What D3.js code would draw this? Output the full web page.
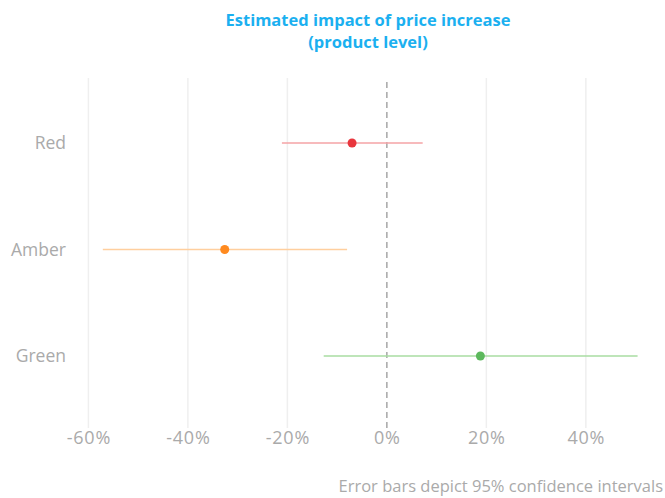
<!DOCTYPE html>
<html>
<head>
<meta charset="utf-8">
<script src="https://cdn.jsdelivr.net/npm/d3@7"></script>
<style>
  body { margin: 0; background: #fff; }
  text { font-family: "Open Sans", "Lato", sans-serif; }
</style>
</head>
<body>
<svg id="chart"></svg>
<script>
var categories = ["Red", "Amber", "Green"];
var estimates = [-7.0, -32.6, 18.8];
var lower = [-21.1, -57.1, -12.7];
var upper = [7.2, -8.0, 50.4];
var pointColors = ["#e8363d", "#ff8a1f", "#5cb85c"];
var barColors = ["#f5a3a6", "#ffcf9e", "#a8dca2"];
var xTicks = [-60, -40, -20, 0, 20, 40];

var width = 665;
var height = 498;
var plotTop = 78, plotBottom = 428;

var svg = d3.select("#chart")
    .attr("width", width)
    .attr("height", height);

var xScale = d3.scaleLinear()
    .domain([-63.7, 53.9])
    .range([70, 655]);
var yScale = d3.scalePoint()
    .domain(categories)
    .range([143, 356]);

// grid
svg.append("g")
    .selectAll("line")
    .data(xTicks.filter(function (d) { return d !== 0; }))
    .enter()
    .append("line")
    .attr("x1", function (d) { return xScale(d); })
    .attr("x2", function (d) { return xScale(d); })
    .attr("y1", plotTop)
    .attr("y2", plotBottom)
    .attr("stroke", "#efefef")
    .attr("stroke-width", 1.5);

// zero line
svg.append("line")
    .attr("x1", xScale(0))
    .attr("x2", xScale(0))
    .attr("y1", 82)
    .attr("y2", plotBottom)
    .attr("stroke", "#999")
    .attr("stroke-width", 1.3)
    .attr("stroke-dasharray", "6,4");

// x axis labels
var xAxis = d3.axisBottom(xScale)
    .tickValues(xTicks)
    .tickSize(0)
    .tickPadding(0)
    .tickFormat(function (d) { return d + "%"; });
var gx = svg.append("g")
    .attr("transform", "translate(0," + 428 + ")")
    .call(xAxis);
gx.select(".domain").remove();
gx.selectAll("text")
    .attr("dy", "0.9em")
    .attr("fill", "#aaa")
    .style("font-size", "18px")
    .style("letter-spacing", "0.8px");

// y labels
var yAxis = d3.axisLeft(yScale).tickSize(0).tickPadding(0);
var gy = svg.append("g")
    .attr("transform", "translate(66,0)")
    .call(yAxis);
gy.select(".domain").remove();
gy.selectAll("text")
    .attr("fill", "#aaa")
    .style("font-size", "17.5px");

// error bars
svg.append("g")
    .selectAll("line")
    .data(categories)
    .enter()
    .append("line")
    .attr("x1", function (d, i) { return xScale(lower[i]); })
    .attr("x2", function (d, i) { return xScale(upper[i]); })
    .attr("y1", function (d) { return yScale(d); })
    .attr("y2", function (d) { return yScale(d); })
    .attr("stroke", function (d, i) { return barColors[i]; })
    .attr("stroke-width", 1.5);

// points
svg.append("g")
    .selectAll("circle")
    .data(categories)
    .enter()
    .append("circle")
    .attr("cx", function (d, i) { return xScale(estimates[i]); })
    .attr("cy", function (d) { return yScale(d); })
    .attr("r", 4.5)
    .attr("fill", function (d, i) { return pointColors[i]; });

// title, two lines
var titleLines = ["Estimated impact of price increase", "(product level)"];
svg.append("g")
    .selectAll("text")
    .data(titleLines)
    .enter()
    .append("text")
    .attr("x", 368)
    .attr("y", function (d, i) { return 26 + i * 22; })
    .attr("text-anchor", "middle")
    .attr("fill", "#1bb0f0")
    .style("font-size", "16.5px")
    .style("font-weight", "bold")
    .text(function (d) { return d; });

// footnote
svg.append("text")
    .attr("x", 663)
    .attr("y", 492)
    .attr("text-anchor", "end")
    .attr("fill", "#aaa")
    .style("font-size", "16.5px")
    .text("Error bars depict 95% confidence intervals");
</script>
</body>
</html>
